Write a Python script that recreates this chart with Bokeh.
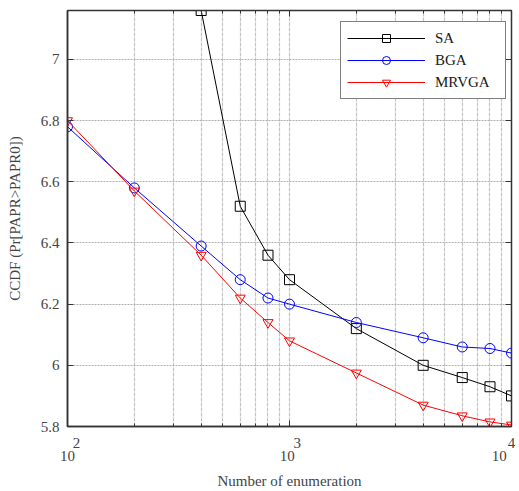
from bokeh.plotting import figure
from bokeh.models import (FixedTicker, LinearAxis, LogAxis, Legend, LegendItem, Range1d)
from bokeh.embed import file_html
from bokeh.resources import INLINE

# Number of enumerations evaluated (log axis)
enumerations = [100, 200, 400, 600, 800, 1000, 2000, 4000, 6000, 8000, 10000]
sa_enum = [400, 600, 800, 1000, 2000, 4000, 6000, 8000, 10000]

# CCDF results per algorithm
sa_ccdf = [7.16, 6.52, 6.36, 6.28, 6.12, 6.00, 5.96, 5.93, 5.90]
bga_ccdf = [6.78, 6.58, 6.39, 6.28, 6.22, 6.20, 6.14, 6.09, 6.06, 6.055, 6.04]
mrvga_ccdf = [6.80, 6.57, 6.36, 6.22, 6.14, 6.08, 5.975, 5.87, 5.835, 5.815, 5.805]

# Axis ticks
x_major = [100, 1000, 10000]
x_minor = [200, 300, 400, 500, 600, 700, 800, 900,
           2000, 3000, 4000, 5000, 6000, 7000, 8000, 9000]
x_base = ["10", "10", "10"]
x_exponents = ["2", "3", "4"]
y_ticks = [5.8, 6.0, 6.2, 6.4, 6.6, 6.8, 7.0]

# horizontal nudges (in decades) that set "10" and its raised exponent side by side
base_shift = [0.0, -0.01, -0.055]
expo_shift = [0.04, 0.035, 0.0]

FONT = "Liberation Serif"
AXIS_COLOR = "#333333"
TEXT_COLOR = "#444444"

p = figure(width=519, height=491, x_axis_type="log",
           x_range=Range1d(100, 10000), y_range=Range1d(5.8, 7.16),
           output_backend="svg", toolbar_location=None,
           min_border_left=67, min_border_right=8,
           min_border_top=10, min_border_bottom=65)
p.background_fill_color = "white"
p.outline_line_color = AXIS_COLOR
p.outline_line_width = 1.5

x_ticker = FixedTicker(ticks=x_major, minor_ticks=x_minor)
y_ticker = FixedTicker(ticks=y_ticks)


def tick_style(ax):
    ax.axis_line_color = AXIS_COLOR
    ax.axis_line_width = 1.5
    ax.major_tick_line_color = AXIS_COLOR
    ax.minor_tick_line_color = AXIS_COLOR
    ax.major_tick_in = 6
    ax.major_tick_out = 0
    ax.minor_tick_in = 3
    ax.minor_tick_out = 0


def hide_labels(ax):
    ax.major_label_text_font_size = "1px"
    ax.major_label_text_color = None
    ax.major_label_standoff = 0


def label_only(ax):
    ax.axis_line_color = None
    ax.major_tick_line_color = None
    ax.minor_tick_line_color = None
    ax.major_tick_in = 0
    ax.major_tick_out = 0
    ax.minor_tick_in = 0
    ax.minor_tick_out = 0
    ax.major_label_text_font = FONT
    ax.major_label_text_font_size = "15px"
    ax.major_label_text_color = TEXT_COLOR


# bottom: tick marks on the frame edge
xa = p.xaxis[0]
xa.ticker = x_ticker
tick_style(xa)
hide_labels(xa)

# bottom: exponents, then the "10" bases with the axis title
expo_ticks = [t * 10 ** s for t, s in zip(x_major, expo_shift)]
base_ticks = [t * 10 ** s for t, s in zip(x_major, base_shift)]
expo_axis = LogAxis(ticker=FixedTicker(ticks=expo_ticks, minor_ticks=[]),
                    major_label_overrides=dict(zip(expo_ticks, x_exponents)))
label_only(expo_axis)
expo_axis.major_label_standoff = 11
base_axis = LogAxis(ticker=FixedTicker(ticks=base_ticks, minor_ticks=[]),
                    major_label_overrides=dict(zip(base_ticks, x_base)))
label_only(base_axis)
base_axis.major_label_standoff = 0
base_axis.axis_label = "Number of enumeration"
base_axis.axis_label_standoff = 9
base_axis.axis_label_text_font = FONT
base_axis.axis_label_text_font_size = "15px"
base_axis.axis_label_text_font_style = "normal"
base_axis.axis_label_text_color = TEXT_COLOR
p.add_layout(expo_axis, "below")
p.add_layout(base_axis, "below")

# left axis
ya = p.yaxis[0]
ya.ticker = y_ticker
tick_style(ya)
ya.minor_tick_line_color = None
ya.major_label_overrides = {t: f"{t:g}" for t in y_ticks}
ya.major_label_text_font = FONT
ya.major_label_text_font_size = "15px"
ya.major_label_text_color = TEXT_COLOR
ya.major_label_standoff = 8
ya.axis_label = "CCDF (Pr[PAPR>PAPR0])"
ya.axis_label_standoff = 15
ya.axis_label_text_font = FONT
ya.axis_label_text_font_size = "15px"
ya.axis_label_text_font_style = "normal"
ya.axis_label_text_color = TEXT_COLOR

# mirrored axes on top / right with inward ticks only
top = LogAxis(ticker=x_ticker)
right = LinearAxis(ticker=y_ticker)
for ax in (top, right):
    tick_style(ax)
    ax.axis_line_width = 1
    hide_labels(ax)
right.minor_tick_line_color = None
p.add_layout(top, "above")
p.add_layout(right, "right")

# grid
p.xgrid.ticker = x_ticker
p.ygrid.ticker = y_ticker
p.xgrid.grid_line_color = "#c4c4c4"
p.xgrid.grid_line_width = 1.2
p.xgrid.grid_line_dash = "4 1"
p.xgrid.minor_grid_line_color = "#c4c4c4"
p.xgrid.minor_grid_line_width = 1.2
p.xgrid.minor_grid_line_dash = "4 1"
p.ygrid.grid_line_color = "#b0b0b0"
p.ygrid.grid_line_width = 1
p.ygrid.grid_line_dash = "2 1"

# series
sa_line = p.line(sa_enum, sa_ccdf, line_color="black", line_width=1)
sa_mark = p.scatter(sa_enum, sa_ccdf, marker="square", size=10,
                    line_color="black", fill_color=None, line_width=1)
bga_line = p.line(enumerations, bga_ccdf, line_color="#0000ff", line_width=1)
bga_mark = p.scatter(enumerations, bga_ccdf, marker="circle", size=10,
                     line_color="#0000ff", fill_color=None, line_width=1)
mr_line = p.line(enumerations, mrvga_ccdf, line_color="#ff0000", line_width=1)
mr_mark = p.scatter(enumerations, mrvga_ccdf, marker="inverted_triangle", size=10,
                    line_color="#ff0000", fill_color=None, line_width=1)

legend = Legend(items=[
    LegendItem(label="SA", renderers=[sa_line, sa_mark]),
    LegendItem(label="BGA", renderers=[bga_line, bga_mark]),
    LegendItem(label="MRVGA", renderers=[mr_line, mr_mark]),
], location=(273, 327))
legend.padding = 6
legend.margin = 0
legend.spacing = 2
legend.glyph_width = 78
legend.glyph_height = 20
legend.label_height = 20
legend.label_width = 64
legend.label_standoff = 10
legend.label_text_font = FONT
legend.label_text_font_size = "15px"
legend.label_text_color = "#1a1a1a"
legend.border_line_color = "black"
legend.border_line_width = 1.5
legend.background_fill_color = "white"
legend.background_fill_alpha = 1
p.add_layout(legend, "center")

open("out.html", "w").write(file_html(p, INLINE))
